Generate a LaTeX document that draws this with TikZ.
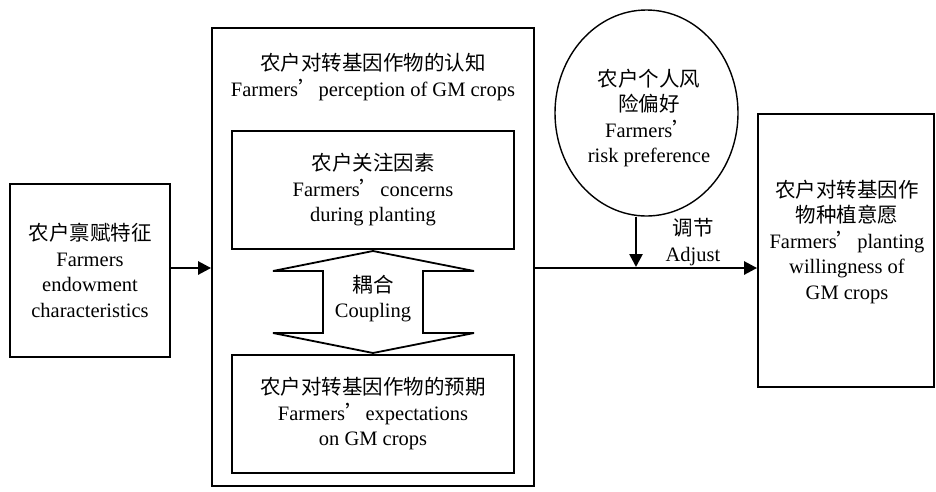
\documentclass[tikz,border=0pt]{standalone}
\usepackage{fontspec}
\setmainfont{Liberation Serif}
\newfontfamily\cjk{Noto Sans CJK SC}
\usetikzlibrary{arrows.meta,shapes.geometric}
\newcommand{\fq}{{\cjk ’}}
\begin{document}
\begin{tikzpicture}[x=1pt,y=-1pt,
  box/.style={draw, line width=1.8pt, inner sep=0pt, align=center},
  txt/.style={align=center, font=\fontsize{20.5}{25.5}\selectfont, inner sep=0pt},
  arr/.style={line width=2.6pt, -{Triangle[length=13pt,width=13pt]}},
  dbl/.style={draw, line width=1.8pt, line join=miter}]
\useasboundingbox (0,0) rectangle (936,491);
\fill[white] (0,0) rectangle (936,491);

% left box
\node[box, txt, minimum width=160pt, minimum height=173pt] (endow) at (90,270.5)
  {{\cjk 农户禀赋特征}\\Farmers\\endowment\\characteristics};

% big perception box
\node[box, minimum width=322pt, minimum height=458pt] (big) at (373,257) {};
\node[txt] (title) at (373,77) {{\cjk 农户对转基因作物的认知}\\Farmers\fq perception of GM crops};

% inner boxes
\node[box, txt, minimum width=282pt, minimum height=118pt] (concern) at (373,190)
  {{\cjk 农户关注因素}\\Farmers\fq concerns\\during planting};
\node[box, txt, minimum width=282pt, minimum height=118pt] (expect) at (373,414)
  {{\cjk 农户对转基因作物的预期}\\Farmers\fq expectations\\on GM crops};

% coupling double arrow
\draw[dbl] (373,251) -- (474,271) -- (423,271) -- (423,333) -- (474,333) -- (373,353)
  -- (273,333) -- (323,333) -- (323,271) -- (273,271) -- cycle;
\node[txt] (coupling) at (373,298.5) {{\cjk 耦合}\\Coupling};

% risk preference ellipse
\node[draw, line width=1.4pt, ellipse, minimum width=183pt, minimum height=206pt, inner sep=0pt] (risk) at (646.5,113) {};
\node[txt] (risktxt) at (649,118) {{\cjk 农户个人风}\\{\cjk 险偏好}\\Farmers\fq\\risk preference};

% right box
\node[box, minimum width=176pt, minimum height=273pt] (willing) at (846,250.5) {};
\node[txt] (willtxt) at (847,242) {{\cjk 农户对转基因作}\\{\cjk 物种植意愿}\\Farmers\fq planting\\willingness of\\GM crops};

% connectors
\coordinate (adj) at (636,268);
\draw[arr] (endow.east |- adj) -- (big.west |- adj);
\draw[line width=2.6pt] (big.east |- adj) -- (adj);
\draw[arr] (adj) -- (willing.west |- adj);
\draw[arr] (risk.south -| adj) -- ([yshift=1pt]adj);
\node[txt] (adjlabel) at (693,242) {{\cjk 调节}\\Adjust};
\end{tikzpicture}
\end{document}
